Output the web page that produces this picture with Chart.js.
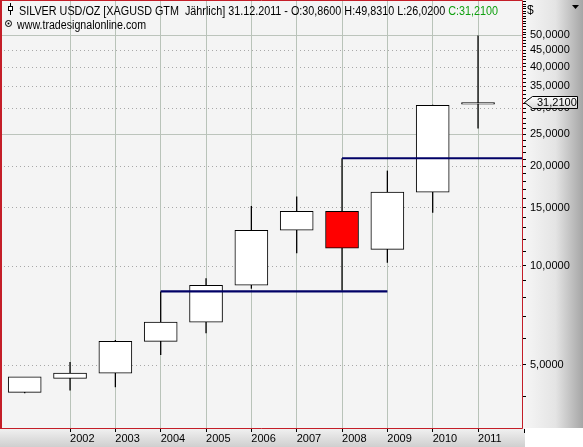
<!DOCTYPE html>
<html lang="de">
<head>
<meta charset="utf-8">
<title>Silver yearly</title>
<script src="https://cdn.jsdelivr.net/npm/chart.js@4.4.1/dist/chart.umd.min.js"></script>
<style>
  html, body { margin: 0; padding: 0; background: #fff; overflow: hidden; }
</style>
</head>
<body>
<canvas id="chart" width="583" height="447"></canvas>
<script>
// yearly candles
const years  = [2001, 2002, 2003, 2004, 2005, 2006, 2007, 2008, 2009, 2010, 2011];
const opens  = [4.13, 4.55, 4.72, 5.89, 6.74, 8.72, 12.8, 14.6, 11.2, 16.7, 30.86];
const highs  = [4.60, 5.10, 5.95, 8.35, 9.15, 15.16, 16.2, 21.15, 19.4, 30.7, 49.831];
const lows   = [4.10, 4.18, 4.28, 5.36, 6.24, 8.51, 10.9, 8.40, 10.2, 14.45, 26.02];
const closes = [4.60, 4.72, 5.90, 6.74, 8.72, 12.8, 14.6, 11.29, 16.7, 30.6, 31.21];

// the two blue levels
const levelAYears = [2004, 2009];
const levelAPrice = [8.35, 8.35];
const levelBYears = [2008, 2011.97];
const levelBPrice = [21.15, 21.15];

// axes
const yearTicks   = [2002, 2003, 2004, 2005, 2006, 2007, 2008, 2009, 2010, 2011];
const priceTicks  = [5, 10, 15, 20, 25, 30, 35, 40, 45, 50];
const solidLevels = [25, 50];
const minorTicks = [];
for (let v = 4; v <= 63; v++) minorTicks.push(v);

const FONT = '"Liberation Sans", Arial, sans-serif';
const fmt = v => v.toFixed(4).replace('.', ',');

const chartDeco = {
  id: 'chartDeco',
  beforeDraw(chart) {
    const ctx = chart.ctx;
    const a = chart.chartArea;
    const y = chart.scales.y;
    ctx.save();
    // plot background
    ctx.fillStyle = '#f4f4f4';
    ctx.fillRect(a.left, a.top, a.right - a.left, a.bottom - a.top);
    // right price panel
    let g = ctx.createLinearGradient(a.right, 0, chart.width, 0);
    g.addColorStop(0, '#f7f7f7');
    g.addColorStop(0.55, '#e4e4e4');
    g.addColorStop(1, '#a6a6a6');
    ctx.fillStyle = g;
    ctx.fillRect(a.right, 0, chart.width - a.right, a.bottom);
    // bottom date band
    g = ctx.createLinearGradient(0, a.bottom, 0, chart.height);
    g.addColorStop(0, '#f2f2f2');
    g.addColorStop(1, '#cfcfcf');
    ctx.fillStyle = g;
    ctx.fillRect(0, a.bottom, a.right + 3, chart.height - a.bottom);
    // horizontal grid
    priceTicks.forEach(v => {
      const py = Math.round(y.getPixelForValue(v)) + 0.5;
      ctx.beginPath();
      if (solidLevels.includes(v)) {
        ctx.setLineDash([]);
        ctx.strokeStyle = '#bcc4bc';
      } else {
        ctx.setLineDash([1, 3]);
        ctx.strokeStyle = '#a8a8a8';
      }
      ctx.lineWidth = 1;
      ctx.moveTo(a.left, py);
      ctx.lineTo(a.right, py);
      ctx.stroke();
    });
    ctx.restore();
  },
  afterDraw(chart) {
    const ctx = chart.ctx;
    const a = chart.chartArea;
    const y = chart.scales.y;
    const n = years.length - 1;
    ctx.save();
    // red frame
    ctx.strokeStyle = '#c41e28';
    ctx.lineWidth = 1;
    ctx.beginPath();
    ctx.moveTo(a.left, a.top + 0.5); ctx.lineTo(a.right + 0.5, a.top + 0.5);
    ctx.lineTo(a.right + 0.5, a.bottom + 0.5); ctx.lineTo(a.left, a.bottom + 0.5);
    ctx.stroke();
    ctx.lineWidth = 2;
    ctx.beginPath(); ctx.moveTo(1, 0); ctx.lineTo(1, a.bottom); ctx.stroke();
    // end tick on date axis
    ctx.strokeStyle = '#000'; ctx.lineWidth = 1;
    ctx.beginPath(); ctx.moveTo(a.right + 2.5, a.bottom + 1); ctx.lineTo(a.right + 2.5, a.bottom + 5); ctx.stroke();

    // title icon
    ctx.beginPath(); ctx.moveTo(10.5, 3); ctx.lineTo(10.5, 15); ctx.stroke();
    ctx.fillStyle = '#fff';
    ctx.fillRect(8, 6, 5, 5); ctx.strokeRect(8.5, 6.5, 4, 4);
    // title
    ctx.font = '12px ' + FONT;
    ctx.textBaseline = 'alphabetic';
    const t1 = 'SILVER USD/OZ [XAGUSD GTM  Jährlich] 31.12.' + years[n] + ' - O:' + fmt(opens[n]) +
               ' H:' + fmt(highs[n]) + ' L:' + fmt(lows[n]) + ' ';
    const t2 = 'C:' + fmt(closes[n]);
    const s = 479 / ctx.measureText(t1 + t2).width;
    ctx.save();
    ctx.translate(19, 15);
    ctx.scale(s, 1);
    ctx.fillStyle = '#000';
    ctx.fillText(t1, 0, 0);
    ctx.fillStyle = '#10a010';
    ctx.fillText(t2, ctx.measureText(t1).width, 0);
    ctx.restore();
    // second line
    ctx.fillStyle = '#000';
    ctx.beginPath(); ctx.arc(8.5, 23.5, 3, 0, Math.PI * 2); ctx.stroke();
    ctx.beginPath(); ctx.arc(8.5, 23.5, 1, 0, Math.PI * 2); ctx.fill();
    const t3 = 'www.tradesignalonline.com';
    const s3 = 129 / ctx.measureText(t3).width;
    ctx.save();
    ctx.translate(17, 29);
    ctx.scale(s3, 1);
    ctx.fillText(t3, 0, 0);
    ctx.restore();

    // right panel header
    ctx.font = '12px ' + FONT;
    ctx.fillText('$', 527, 14);
    ctx.beginPath(); ctx.moveTo(572, 5); ctx.lineTo(579, 5); ctx.lineTo(575.5, 9); ctx.closePath(); ctx.fill();

    // last price marker
    const py = Math.round(y.getPixelForValue(closes[n]));
    ctx.beginPath();
    ctx.moveTo(524.5, py + 0.5);
    ctx.lineTo(532.5, py - 5.5);
    ctx.lineTo(577.5, py - 5.5);
    ctx.lineTo(577.5, py + 6.5);
    ctx.lineTo(532.5, py + 6.5);
    ctx.closePath();
    const g = ctx.createLinearGradient(0, py - 6, 0, py + 7);
    g.addColorStop(0, '#ffffff');
    g.addColorStop(1, '#d8d8d8');
    ctx.fillStyle = g;
    ctx.fill();
    ctx.strokeStyle = '#000';
    ctx.stroke();
    ctx.fillStyle = '#000';
    ctx.font = '11px ' + FONT;
    ctx.textBaseline = 'middle';
    ctx.fillText(fmt(closes[n]), 537, py + 1);
    ctx.restore();
  }
};

const ctx = document.getElementById('chart').getContext('2d');
new Chart(ctx, {
  data: {
    datasets: [
      {
        type: 'line',
        data: levelAYears.map((x, i) => ({x: x, y: levelAPrice[i]})),
        borderColor: '#000066',
        borderWidth: 2.2,
        pointRadius: 0,
        order: 0
      },
      {
        type: 'line',
        data: levelBYears.map((x, i) => ({x: x, y: levelBPrice[i]})),
        borderColor: '#000066',
        borderWidth: 2.2,
        pointRadius: 0,
        order: 0
      },
      {
        type: 'bar',
        data: years.map((x, i) => ({x: x, y: [opens[i], closes[i]]})),
        backgroundColor: years.map((x, i) => closes[i] < opens[i] ? '#ff0000' : '#ffffff'),
        borderColor: '#000',
        borderWidth: 1,
        borderSkipped: false,
        barThickness: 33,
        grouped: false,
        order: 1
      },
      {
        type: 'bar',
        data: years.map((x, i) => ({x: x, y: [lows[i], highs[i]]})),
        backgroundColor: '#000',
        borderWidth: 0,
        inflateAmount: 0,
        barThickness: 1.3,
        grouped: false,
        order: 2
      }
    ]
  },
  options: {
    responsive: false,
    animation: false,
    events: [],
    layout: { padding: 0 },
    plugins: { legend: { display: false }, tooltip: { enabled: false } },
    scales: {
      x: {
        type: 'linear',
        offset: false,
        min: 2000.455,
        max: 2011.97,
        afterBuildTicks: s => { s.ticks = yearTicks.map(v => ({value: v})); },
        afterFit: s => { s.height = 19; s.paddingLeft = 0; s.paddingRight = 0; },
        grid: { offset: false, color: '#b9c3b9', lineWidth: 1, drawTicks: true, tickLength: 4, tickColor: '#000', tickWidth: 1 },
        border: { display: false },
        ticks: {
          autoSkip: false, maxRotation: 0, align: 'start', padding: 0,
          color: '#000', font: { family: FONT, size: 11 },
          callback: v => String(v)
        }
      },
      y: {
        type: 'logarithmic',
        position: 'right',
        min: 3.22,
        max: 63.8,
        afterBuildTicks: s => { s.ticks = minorTicks.map(v => ({value: v})); },
        afterFit: s => { s.width = 61; s.paddingTop = 0; s.paddingBottom = 0; },
        grid: { drawOnChartArea: false, drawTicks: true, tickLength: 4, tickColor: '#000', tickWidth: 1, color: '#000' },
        border: { display: false },
        ticks: {
          autoSkip: false, padding: 4,
          color: '#000', font: { family: FONT, size: 11 },
          callback: v => priceTicks.includes(v) ? fmt(v) : ''
        }
      }
    }
  },
  plugins: [chartDeco]
});
</script>
</body>
</html>
